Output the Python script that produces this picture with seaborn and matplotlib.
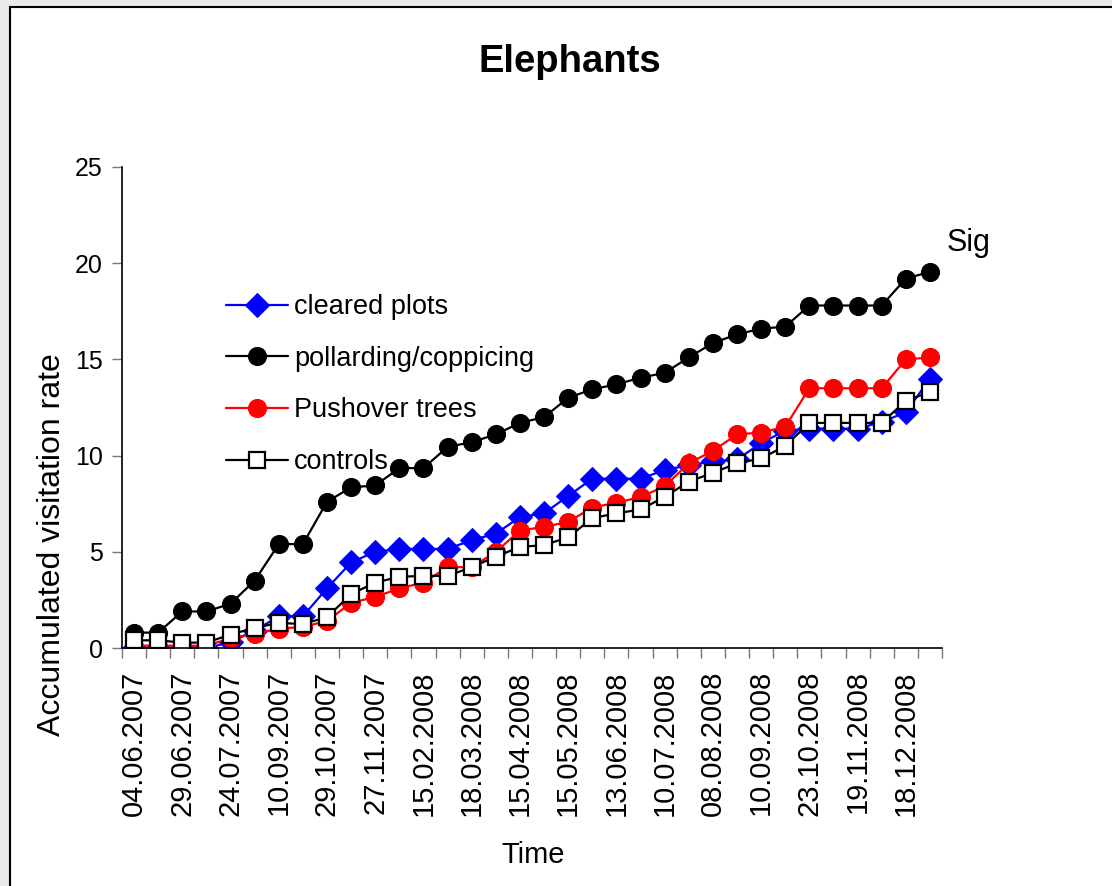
import matplotlib
matplotlib.use("Agg")
import matplotlib.pyplot as plt
import seaborn as sns
import numpy as np
from matplotlib.patches import Rectangle
from matplotlib.lines import Line2D

# values, one per sampling date
cleared = [0, 0, 0, 0, 0.3, 0.9, 1.65, 1.65, 3.1, 4.45, 5.0, 5.15, 5.15, 5.15, 5.6, 5.95, 6.8,
           7.0, 7.9, 8.8, 8.8, 8.8, 9.25, 9.5, 9.7, 9.8, 10.65, 11.3, 11.4, 11.4, 11.4, 11.75, 12.25, 14.0]
pollarding = [0.8, 0.8, 1.9, 1.9, 2.3, 3.5, 5.4, 5.4, 7.6, 8.35, 8.45, 9.35, 9.35, 10.45, 10.7, 11.1, 11.7,
              12.0, 13.0, 13.45, 13.7, 14.05, 14.3, 15.1, 15.85, 16.3, 16.6, 16.7, 17.8, 17.8, 17.8, 17.8, 19.2, 19.55]
pushover = [0.12, 0.12, 0.12, 0.12, 0.5, 0.75, 1.0, 1.1, 1.4, 2.35, 2.65, 3.1, 3.4, 4.2, 4.2, 5.0, 6.1,
            6.3, 6.55, 7.3, 7.55, 7.85, 8.4, 9.6, 10.25, 11.1, 11.2, 11.5, 13.5, 13.5, 13.5, 13.5, 15.0, 15.1]
controls = [0.4, 0.4, 0.28, 0.28, 0.7, 1.05, 1.3, 1.25, 1.6, 2.8, 3.4, 3.7, 3.75, 3.75, 4.2, 4.75, 5.25,
            5.35, 5.75, 6.75, 7.0, 7.2, 7.85, 8.65, 9.1, 9.6, 9.85, 10.5, 11.7, 11.7, 11.7, 11.7, 12.85, 13.3]

date_labels = ["04.06.2007", "29.06.2007", "24.07.2007", "10.09.2007", "29.10.2007", "27.11.2007",
               "15.02.2008", "18.03.2008", "15.04.2008", "15.05.2008", "13.06.2008", "10.07.2008",
               "08.08.2008", "10.09.2008", "23.10.2008", "19.11.2008", "18.12.2008"]

sns.set_style("white")
plt.rcParams['font.family'] = ['Liberation Sans', 'DejaVu Sans']
plt.rcParams['text.color'] = 'black'
plt.rcParams['xtick.labelcolor'] = 'black'
plt.rcParams['ytick.labelcolor'] = 'black'

fig = plt.figure(figsize=(11.12, 8.86), dpi=100)
ax = fig.add_axes([122/1112, 1-648/886, 820/1112, 481/886])

x = np.arange(len(pollarding))
sns.lineplot(x=x, y=cleared, ax=ax, color="#0000ff", marker="D", markersize=12.5,
             markeredgecolor="#0000ff", linewidth=1.6, label="cleared plots")
sns.lineplot(x=x, y=pollarding, ax=ax, color="black", marker="o", markersize=13,
             markeredgecolor="black", linewidth=1.6, label="pollarding/coppicing")
sns.lineplot(x=x, y=pushover, ax=ax, color="#ff0000", marker="o", markersize=13,
             markeredgecolor="#ff0000", linewidth=1.6, label="Pushover trees")
sns.lineplot(x=x, y=controls, ax=ax, color="black", marker="s", markersize=12,
             markerfacecolor="white", markeredgecolor="black", markeredgewidth=1.6,
             linewidth=1.6, label="controls")

ax.set_xlim(-0.5, len(x) - 0.5)
ax.set_ylim(0, 25)
ax.set_yticks([0, 5, 10, 15, 20, 25])
ax.tick_params(axis="y", labelsize=18, length=7, width=1, color="#777777", pad=7, direction="out", left=True)
ax.set_xticks(x[::2])
ax.set_xticklabels(date_labels, rotation=90)
ax.set_xticks(np.arange(-0.5, len(x), 1), minor=True)
ax.tick_params(axis="x", which="major", length=0, pad=16, labelsize=21)
ax.tick_params(axis="x", which="minor", length=7, width=1, color="#777777", direction="out", bottom=True)
for side in ["top", "right"]:
    ax.spines[side].set_visible(False)
for side in ["left", "bottom"]:
    ax.spines[side].set_color("black")
    ax.spines[side].set_linewidth(1.2)
ax.set_xlabel("")
ax.set_ylabel("")

leg = ax.legend(loc="upper left", bbox_to_anchor=(226/1112, 1-294/886), bbox_transform=fig.transFigure,
                frameon=False, fontsize=19.5, handlelength=2.3, handletextpad=0.2, labelspacing=0.95,
                borderpad=0, borderaxespad=0)

fig.text(570/1112, 1-62/886, "Elephants", fontsize=27.5, fontweight="bold", ha="center", va="center")
fig.text(533/1112, 1-855/886, "Time", fontsize=21, ha="center", va="center")
fig.text(52/1112, 1-545/886, "Accumulated visitation rate", fontsize=23, rotation=90, ha="center", va="center")
fig.text(969/1112, 1-243/886, "Sig", fontsize=22, ha="center", va="center")

# outer chart-area frame
fig.patches.append(Rectangle((0, 0), 10/1112, 1, transform=fig.transFigure, color="#e9e9e9", zorder=0))
fig.patches.append(Rectangle((0, 1-7/886), 1, 7/886, transform=fig.transFigure, color="#e9e9e9", zorder=0))
fig.lines.append(Line2D([10/1112, 10/1112], [0, 1-7/886], transform=fig.transFigure, color="black", linewidth=1.5))
fig.lines.append(Line2D([10/1112, 1], [1-7/886, 1-7/886], transform=fig.transFigure, color="black", linewidth=1.5))

fig.savefig("out.png", dpi=100)
